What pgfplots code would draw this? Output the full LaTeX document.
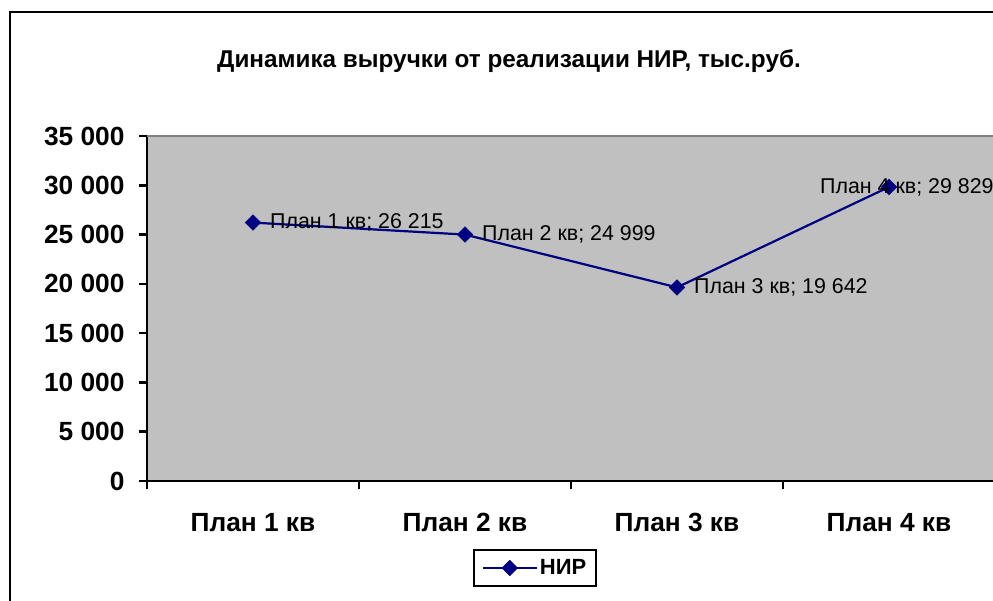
\documentclass[border=0pt]{standalone}
\usepackage{pgfplots}
\pgfplotsset{compat=1.18}
\usepackage{fontspec}
\setmainfont{Liberation Sans}
\definecolor{navyC}{HTML}{000080}
\definecolor{plotBg}{HTML}{C0C0C0}
\definecolor{topLine}{HTML}{808080}

\begin{document}
\begin{tikzpicture}[x=1pt,y=1pt]
  \path[use as bounding box] (0,0) rectangle (993,600);
  % chart frame (cut off on the right and bottom)
  \draw[line width=2.5pt] (10,-20) -- (10,588) -- (1020,588);
  \node[font=\bfseries\fontsize{24.3}{28}\selectfont] at (509,539)
    {Динамика выручки от реализации НИР, тыс.руб.};
  \begin{axis}[
      at={(147pt,119pt)}, anchor=south west,
      scale only axis, width=848pt, height=345pt,
      xmin=0.5, xmax=4.5, ymin=0, ymax=35000,
      xtick={0.5,1.5,2.5,3.5,4.5},
      xticklabels={План 1 кв,План 2 кв,План 3 кв,План 4 кв},
      x tick label as interval,
      ytick={0,5000,...,35000},
      scaled y ticks=false,
      axis x line*=bottom, axis y line*=left,
      axis line style={line width=2.5pt, -},
      tick align=outside, major tick length=8pt,
      tick style={black, line width=2.5pt},
      axis background/.style={fill=plotBg},
      tick label style={font=\bfseries\fontsize{26.3}{30}\selectfont},
      /pgf/number format/assume math mode=true,
      /pgf/number format/1000 sep={\ },
      yticklabel style={xshift=-11pt},
      xticklabel style={yshift=-21pt},
      legend style={at={(0.4575,-0.252)}, anchor=center,
        draw=black, line width=2pt,
        font=\bfseries\fontsize{22}{26}\selectfont,
        inner xsep=8pt, inner ysep=8pt},
      legend image code/.code={
        \draw[mark repeat=2, mark phase=2, #1]
          plot coordinates {(0pt,0pt) (27pt,0pt) (54pt,0pt)};},
      clip=false,
      datalabel/.style={draw=none, forget plot, point meta=y,
        visualization depends on={x \as \qx},
        nodes near coords={План \pgfmathprintnumber[fixed,precision=0]{\qx} кв; \pgfmathprintnumber{\pgfplotspointmeta}},
        every node near coord/.style={anchor=west, inner sep=0pt, xshift=#1,
          font=\fontsize{21.4}{25}\selectfont}},
    ]
    \draw[topLine, line width=2pt] (rel axis cs:0,1) -- (rel axis cs:1,1);
    \addplot[navyC, line width=2.2pt, mark=square*,
      mark options={fill=navyC, rotate=45, line width=0.5pt}, mark size=5.5pt]
      coordinates {(1,26215) (2,24999) (3,19642) (4,29829)};
    \addlegendentry{НИР}
    \addplot[datalabel=17pt]
      coordinates {(1,26215) (2,24999) (3,19642)};
    \addplot[datalabel=-69pt]
      coordinates {(4,29829)};
  \end{axis}
\end{tikzpicture}
\end{document}
